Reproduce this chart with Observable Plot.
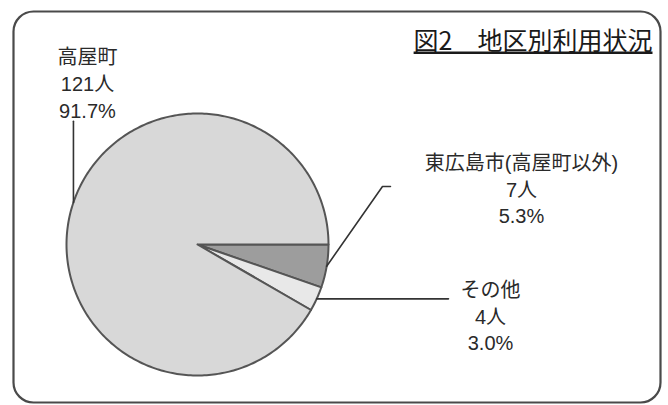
<!DOCTYPE html>
<html><head><meta charset="utf-8">
<script src="https://cdn.jsdelivr.net/npm/d3@7"></script>
<script src="https://cdn.jsdelivr.net/npm/@observablehq/plot@0.6"></script>
<style>
html,body{margin:0;padding:0;background:#fff;}
#chart{width:668px;height:405px;}
</style></head><body><div id="chart"></div>
<script>
// ---- data ----
const categories = ["東広島市(高屋町以外)", "その他", "高屋町"];
const counts = [7, 4, 121];
const percents = ["5.3%", "3.0%", "91.7%"];
const unit = "人";
const title = "図2　地区別利用状況";

// ---- styles / layout (unit-circle coordinates) ----
const sliceColors = ["#9d9d9d", "#e8e8e8", "#d8d8d8"];
const labelPos = [[2.473, 0.43], [2.237, -0.54], [-0.84, 1.237]];
const leaderAnchorAngle = [null, null, null];            // null = slice mid-angle
const leaderBends = [[[1.412, 0.443], [1.473, 0.443]], [[1.916, -0.415]], [[-0.947, 0.94]]];
const font = "'Liberation Sans', 'Noto Sans CJK JP', sans-serif";
const titleFont = "'Noto Sans CJK JP', sans-serif";

const pie = d3.pie().sort(null).startAngle(Math.PI / 2).endAngle(Math.PI / 2 + 2 * Math.PI);
const arcs = pie(counts);

// slice polygons
const polys = arcs.map((a, i) => {
  const n = Math.max(4, Math.ceil((a.endAngle - a.startAngle) / (Math.PI / 180)));
  const pts = [{x: 0, y: 0, i}];
  for (let k = 0; k <= n; ++k) {
    const t = a.startAngle + (a.endAngle - a.startAngle) * k / n;
    pts.push({x: Math.sin(t), y: Math.cos(t), i});
  }
  pts.push({x: 0, y: 0, i});
  return pts;
});

// leader lines: start on the pie edge, then through bend points
const leaders = arcs.map((a, i) => {
  let start;
  if (i === 2) {
    const bx = leaderBends[2][0][0];
    start = {x: bx, y: Math.sqrt(1 - bx * bx), i};
  } else {
    const ang = leaderAnchorAngle[i] ?? (a.startAngle + a.endAngle) / 2;
    start = {x: Math.sin(ang), y: Math.cos(ang), i};
  }
  return [start, ...leaderBends[i].map(([x, y]) => ({x, y, i}))];
});

const labels = categories.map((c, i) => ({
  x: labelPos[i][0], y: labelPos[i][1],
  text: `${c}\n${counts[i]}${unit}\n${percents[i]}`
}));

const chart = Plot.plot({
  width: 668, height: 405, margin: 0,
  style: {background: "#fff"},
  x: {domain: [-1, 1], range: [66, 328], axis: null},
  y: {domain: [-1, 1], range: [375, 113], axis: null},
  marks: [
    Plot.frame({stroke: "#4a4a4a", strokeWidth: 2.2, rx: 20, insetLeft: 13, insetTop: 11, insetRight: 8, insetBottom: 3}),
    ...polys.map((p, i) => Plot.line(p, {x: "x", y: "y", fill: sliceColors[i], stroke: "#555", strokeWidth: 2, strokeLinejoin: "round"})),
    ...leaders.map(l => Plot.line(l, {x: "x", y: "y", stroke: "#333", strokeWidth: 1.6})),
    Plot.text(labels, {x: "x", y: "y", text: "text", fontSize: 20, lineHeight: 1.33, fill: "#2a2a2a", fontFamily: font}),
    Plot.text([title], {frameAnchor: "top-right", lineAnchor: "middle", dx: -16, dy: 41, fontSize: 25, fill: "#1a1a1a", fontFamily: titleFont, text: d => d})
  ]
});
d3.select(chart).selectAll("text").filter(function() { return this.textContent === title; })
  .style("text-decoration", "underline");
document.getElementById("chart").appendChild(chart);
</script></body></html>
